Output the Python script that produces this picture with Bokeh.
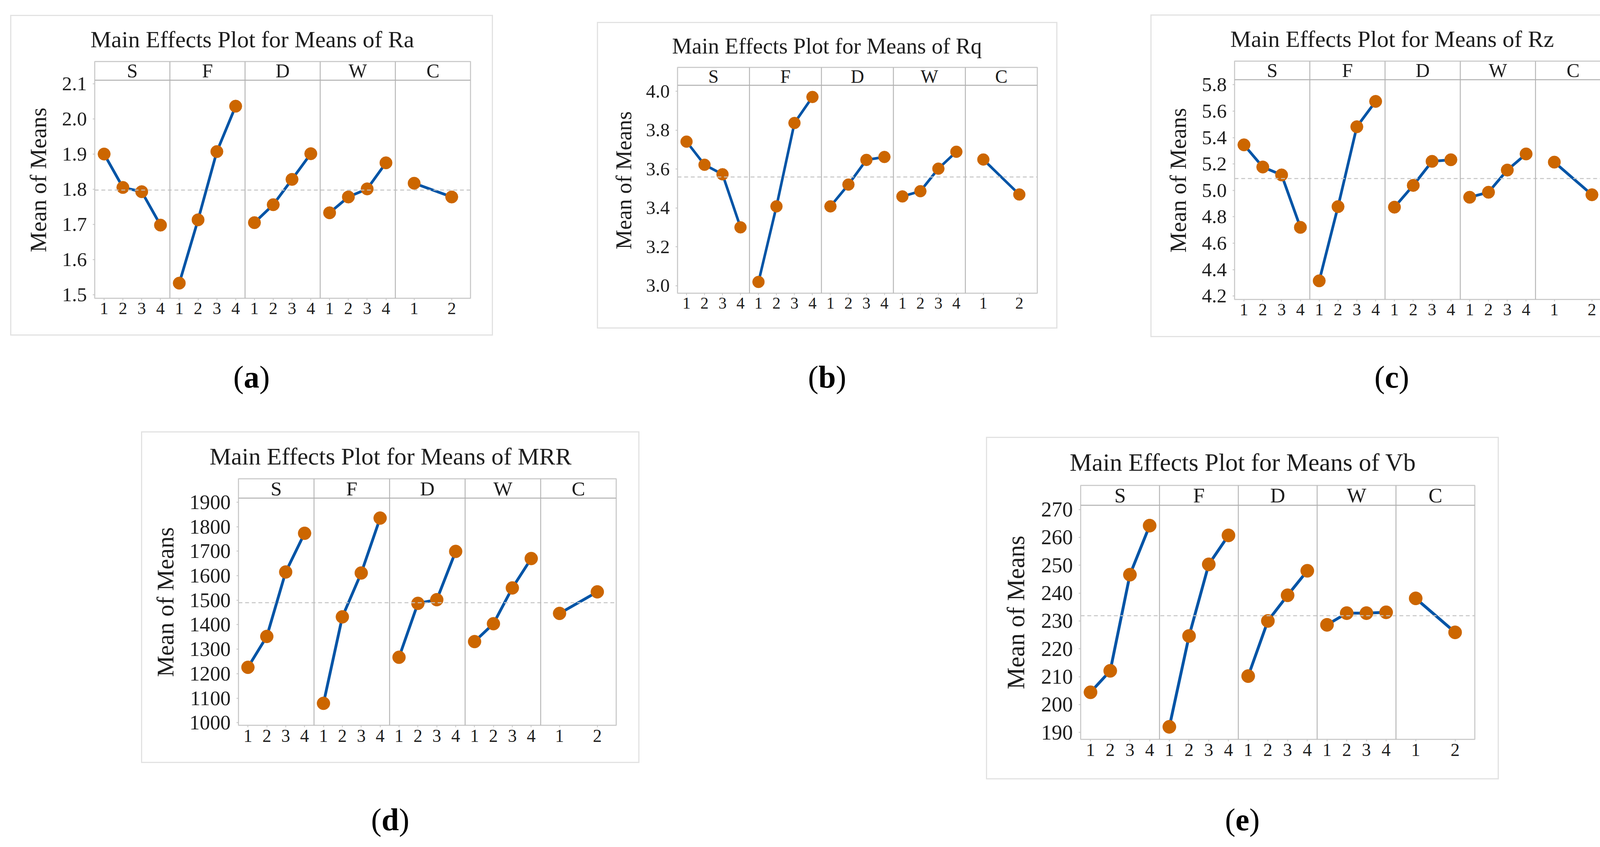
import numpy as np
from bokeh.plotting import figure
from bokeh.models import Span, FixedTicker, Range1d, Spacer, Div
from bokeh.layouts import row, column
from bokeh.embed import file_html
from bokeh.resources import INLINE
from bokeh.core.properties import value

# ---------------- data ----------------
factors = ["S", "F", "D", "W", "C"]
levels = [["1", "2", "3", "4"], ["1", "2", "3", "4"], ["1", "2", "3", "4"],
          ["1", "2", "3", "4"], ["1", "2"]]

ra_S = [1.900, 1.805, 1.793, 1.698]
ra_F = [1.533, 1.713, 1.907, 2.036]
ra_D = [1.705, 1.756, 1.828, 1.901]
ra_W = [1.733, 1.778, 1.801, 1.875]
ra_C = [1.817, 1.778]
ra_yticks = [1.5, 1.6, 1.7, 1.8, 1.9, 2.0, 2.1]
ra_ylim = (1.490, 2.110)

rq_S = [3.741, 3.622, 3.573, 3.300]
rq_F = [3.019, 3.408, 3.837, 3.971]
rq_D = [3.408, 3.520, 3.647, 3.662]
rq_W = [3.459, 3.486, 3.602, 3.689]
rq_C = [3.649, 3.469]
rq_yticks = [3.0, 3.2, 3.4, 3.6, 3.8, 4.0]
rq_ylim = (2.961, 4.031)

rz_S = [5.345, 5.177, 5.117, 4.720]
rz_F = [4.315, 4.877, 5.482, 5.674]
rz_D = [4.873, 5.038, 5.220, 5.232]
rz_W = [4.948, 4.986, 5.154, 5.276]
rz_C = [5.214, 4.967]
rz_yticks = [4.2, 4.4, 4.6, 4.8, 5.0, 5.2, 5.4, 5.6, 5.8]
rz_ylim = (4.174, 5.838)

mrr_S = [1226, 1352, 1615, 1773]
mrr_F = [1079, 1432, 1611, 1835]
mrr_D = [1267, 1487, 1502, 1699]
mrr_W = [1331, 1404, 1550, 1670]
mrr_C = [1446, 1534]
mrr_yticks = [1000, 1100, 1200, 1300, 1400, 1500, 1600, 1700, 1800, 1900]
mrr_ylim = (989.4, 1916.3)

vb_S = [204.4, 212.1, 246.6, 264.2]
vb_F = [192.0, 224.6, 250.3, 260.7]
vb_D = [210.2, 230.0, 239.2, 248.0]
vb_W = [228.6, 232.8, 232.8, 233.1]
vb_C = [238.1, 225.9]
vb_yticks = [190, 200, 210, 220, 230, 240, 250, 260, 270]
vb_ylim = (187.5, 271.5)

titles = ["Main Effects Plot for Means of Ra", "Main Effects Plot for Means of Rq",
          "Main Effects Plot for Means of Rz", "Main Effects Plot for Means of MRR",
          "Main Effects Plot for Means of Vb"]
captions = ["a", "b", "c", "d", "e"]
ylabel = "Mean of Means"

# ---------------- style ----------------
FONT = "Liberation Serif"
BLUE = "#0054A6"
ORANGE = "#CC6600"
TXT = "#1e1e1e"
PANEL_W = 8
BW = 3  # width of the light box drawn round each chart (CSS outline)

# geometry (outer box incl. outline): w, h, frame insets l, r, t, b, strip px, title offset, scale
geo_a = dict(w=1236, h=821, l=216, r=58, t=115, b=96, strip=48, toff=-11, s=1.0)
geo_b = dict(w=1179, h=785, l=206, r=52, t=101, b=91, strip=47, toff=-14, s=0.954)
geo_c = dict(w=1236, h=826, l=215, r=58, t=114, b=97, strip=48, toff=-11, s=1.0)
geo_d = dict(w=1276, h=849, l=249, r=60, t=116, b=97, strip=50, toff=-74, s=1.035)
geo_e = dict(w=1313, h=877, l=242, r=62, t=122, b=103, strip=51, toff=-28, s=1.062)


def make_chart(series, ylim, yticks, fmt, title, g):
    s = g["s"]
    frame_h = g["h"] - g["t"] - g["b"]
    y_lo, y_hi = ylim
    y_top = y_hi + g["strip"] * (y_hi - y_lo) / (frame_h - g["strip"])
    npanel = len(factors)
    p = figure(width=g["w"] - 2 * BW, height=g["h"] - 2 * BW,
               x_range=Range1d(0, PANEL_W * npanel),
               y_range=Range1d(y_lo, y_top), output_backend="svg", toolbar_location=None,
               min_border_left=g["l"] - BW, min_border_right=g["r"] - BW,
               min_border_top=g["t"] - BW, min_border_bottom=g["b"] - BW,
               background_fill_color="white", border_fill_color="white",
               outline_line_color="#cdcdcd", outline_line_width=3,
               title=title)
    p.styles = {"outline": f"{BW}px solid #e2e2e2"}
    p.title.text_font = FONT
    p.title.text_font_style = "normal"
    p.title.text_font_size = f"{60 * s:.1f}px"
    p.title.text_color = TXT
    p.title.align = "left"
    p.title.offset = g["toff"]
    p.title.standoff = 48
    p.xgrid.visible = False
    p.ygrid.visible = False

    # x positions for each level within its panel
    tick_pos, tick_lab = [], []
    for k, (fac, labs) in enumerate(zip(factors, levels)):
        n = len(labs)
        xs = [PANEL_W * k + (i + 0.5) * PANEL_W / n for i in range(n)]
        ys = series[k]
        p.line(xs, ys, line_color=BLUE, line_width=7 * s)
        p.scatter(xs, ys, size=32 * s, fill_color=ORANGE, line_color=ORANGE)
        tick_pos += [int(round(x)) for x in xs]
        tick_lab += labs

    grand_mean = float(np.mean([np.mean(v) for v in series]))
    p.add_layout(Span(location=grand_mean, dimension="width", line_color="#c4c4c4",
                      line_width=2.5, line_dash="10 7"))
    for k in range(1, npanel):
        p.add_layout(Span(location=PANEL_W * k, dimension="height",
                          line_color="#b8b8b8", line_width=2.5))
    p.add_layout(Span(location=y_hi, dimension="width", line_color="#b0b0b0", line_width=2.5))

    centers = [PANEL_W * (k + 0.5) for k in range(npanel)]
    p.text(x=centers, y=[(y_hi + y_top) / 2] * npanel, text=factors,
           text_align="center", text_baseline="middle",
           text_font=value(FONT), text_font_size=f"{50 * s:.1f}px", text_color=TXT)

    xa = p.xaxis[0]
    xa.ticker = FixedTicker(ticks=tick_pos)
    xa.major_label_overrides = {t: l for t, l in zip(tick_pos, tick_lab)}
    ya = p.yaxis[0]
    ya.ticker = FixedTicker(ticks=yticks)
    ya.major_label_overrides = {t: fmt.format(t) for t in yticks}
    for ax in (xa, ya):
        ax.axis_line_color = None
        ax.major_tick_line_color = "#c4c4c4"
        ax.major_tick_line_width = 2
        ax.major_tick_out = 5
        ax.major_tick_in = 0
        ax.minor_tick_line_color = None
        ax.major_label_text_font = FONT
        ax.major_label_text_color = TXT
    xa.major_label_text_font_size = f"{44 * s:.1f}px"
    xa.major_label_standoff = 6
    ya.major_label_text_font_size = f"{51 * s:.1f}px"
    ya.major_label_standoff = 15
    ya.axis_label = ylabel
    ya.axis_label_text_font = FONT
    ya.axis_label_text_font_style = "normal"
    ya.axis_label_text_font_size = f"{59 * s:.1f}px"
    ya.axis_label_text_color = TXT
    ya.axis_label_standoff = int(25 * s)
    return p


def caption(letter, width):
    return Div(text=f"(<b>{letter}</b>)", width=width, height=94, margin=(0, 0, 0, 0),
               styles={"text-align": "center", "font-family": FONT, "font-size": "80px",
                       "line-height": "96px", "color": "#000000"})


def cell(p, g, letter, top_gap, cap_gap):
    return column(Spacer(height=top_gap + BW), p, Spacer(height=cap_gap + BW),
                  caption(letter, g["w"] - 2 * BW))


p_a = make_chart([ra_S, ra_F, ra_D, ra_W, ra_C], ra_ylim, ra_yticks, "{:.1f}", titles[0], geo_a)
p_b = make_chart([rq_S, rq_F, rq_D, rq_W, rq_C], rq_ylim, rq_yticks, "{:.1f}", titles[1], geo_b)
p_c = make_chart([rz_S, rz_F, rz_D, rz_W, rz_C], rz_ylim, rz_yticks, "{:.1f}", titles[2], geo_c)
p_d = make_chart([mrr_S, mrr_F, mrr_D, mrr_W, mrr_C], mrr_ylim, mrr_yticks, "{:.0f}", titles[3], geo_d)
p_e = make_chart([vb_S, vb_F, vb_D, vb_W, vb_C], vb_ylim, vb_yticks, "{:.0f}", titles[4], geo_e)

cell_a = cell(p_a, geo_a, captions[0], 38, 58)
cell_b = cell(p_b, geo_b, captions[1], 56, 76)
cell_c = cell(p_c, geo_c, captions[2], 37, 54)
cell_d = cell(p_d, geo_d, captions[3], 93, 97)
cell_e = cell(p_e, geo_e, captions[4], 107, 55)

row1 = row(Spacer(width=26 + BW), cell_a, Spacer(width=266 + 2 * BW), cell_b,
           Spacer(width=238 + 2 * BW), cell_c)
row2 = row(Spacer(width=361 + BW), cell_d, Spacer(width=887 + 2 * BW), cell_e)
page = column(row1, row2)

open("out.html", "w").write(file_html(page, INLINE))
